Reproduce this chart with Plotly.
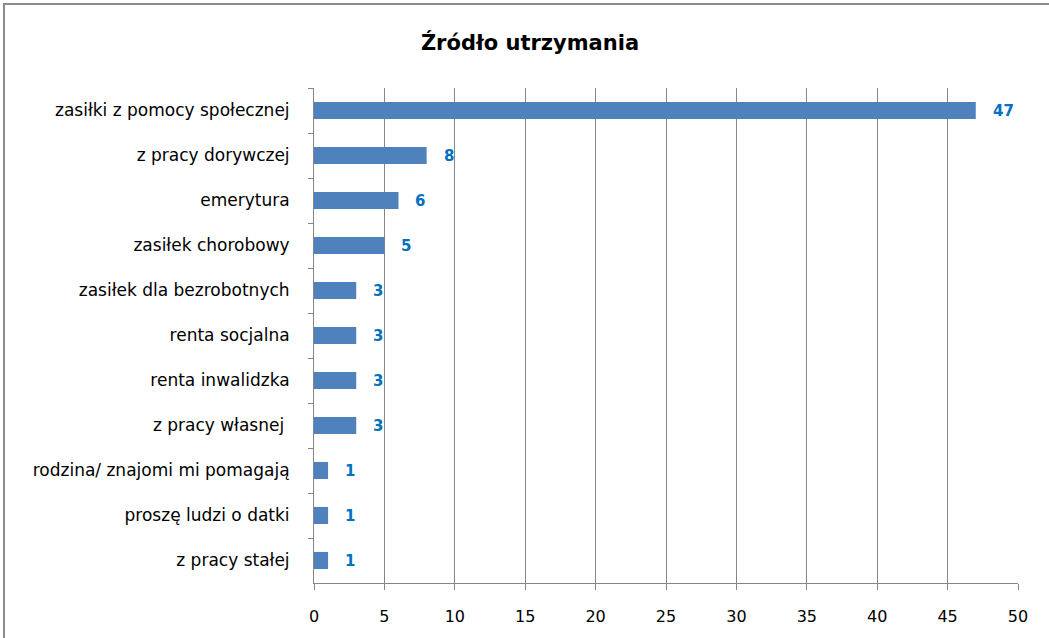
import plotly.graph_objects as go

title = "Źródło utrzymania"
categories = [
    "zasiłki z pomocy społecznej",
    "z pracy dorywczej",
    "emerytura",
    "zasiłek chorobowy",
    "zasiłek dla bezrobotnych",
    "renta socjalna",
    "renta inwalidzka",
    "z pracy własnej ",
    "rodzina/ znajomi mi pomagają",
    "proszę ludzi o datki",
    "z pracy stałej",
]
values = [47, 8, 6, 5, 3, 3, 3, 3, 1, 1, 1]
x_ticks = list(range(0, 51, 5))

FONT = "'DejaVu Sans', Verdana, sans-serif"
W, H = 1049, 638
L, R, T, B = 314, 31, 88, 55
pw, ph = W - L - R, H - T - B
GRID = "#878787"
FRAME = "#8C8C8C"


def px_x(p):
    return (p - L) / pw


def px_y(p):
    return (T + ph - p) / ph


fig = go.Figure(go.Bar(
    x=values, y=categories, orientation="h",
    marker=dict(color="#4F81BD", line=dict(width=0)),
    width=0.38,
    hoverinfo="x+y",
))

for c, v in zip(categories, values):
    fig.add_annotation(
        x=v, y=c, text=f"<b>{v}</b>", showarrow=False,
        xanchor="left", xshift=15, yshift=0,
        font=dict(family=FONT, size=15, color="#0070C0"),
    )

# outer chart frame (top and left edges visible in the window)
fig.add_shape(type="line", xref="paper", yref="paper",
              x0=px_x(3), x1=px_x(W + 5), y0=px_y(4), y1=px_y(4),
              line=dict(color=FRAME, width=2), layer="above")
fig.add_shape(type="line", xref="paper", yref="paper",
              x0=px_x(4), x1=px_x(4), y0=px_y(3), y1=px_y(H + 5),
              line=dict(color=FRAME, width=2), layer="above")

fig.update_layout(
    width=W, height=H,
    margin=dict(l=L, r=R, t=T, b=B, pad=0),
    paper_bgcolor="white", plot_bgcolor="white",
    font=dict(family=FONT, size=16, color="black"),
    title=dict(text=f"<b>{title}</b>", x=530 / W, xanchor="center", xref="container",
               y=1 - 43 / H, yanchor="middle", yref="container",
               font=dict(family=FONT, size=21, color="black")),
    showlegend=False,
    xaxis=dict(
        range=[0, 50], tickvals=x_ticks, ticktext=[str(t) for t in x_ticks],
        showgrid=True, gridcolor=GRID, gridwidth=1,
        showline=True, linecolor=GRID, linewidth=1,
        ticks="outside", ticklen=6, tickcolor=GRID,
        zeroline=False, fixedrange=True,
        tickfont=dict(family=FONT, size=16, color="black"),
        ticklabelstandoff=13,
    ),
    yaxis=dict(
        autorange="reversed", type="category",
        showline=True, linecolor=GRID, linewidth=1,
        ticks="outside", tickson="boundaries", ticklen=5, tickcolor=GRID,
        showgrid=False, fixedrange=True,
        tickfont=dict(family=FONT, size=17, color="black"),
        ticklabelstandoff=20,
    ),
)

fig.write_html("out.html", config={"displayModeBar": False},
               post_script="document.body.style.margin='0';")
